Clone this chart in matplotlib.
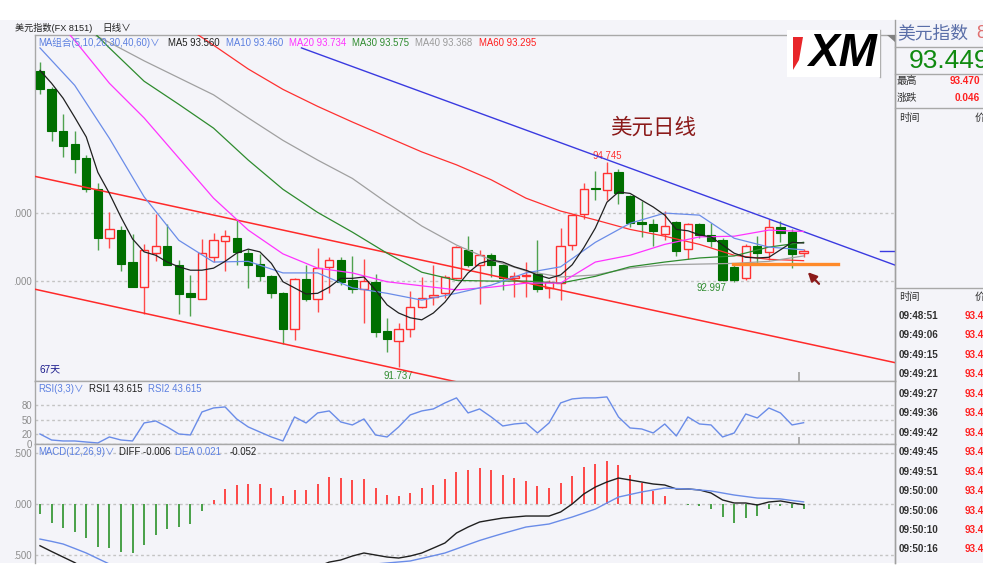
import numpy as np
import matplotlib.pyplot as plt
from matplotlib.patches import Rectangle, Polygon

plt.rcParams['font.family'] = ['Liberation Sans', 'Noto Sans CJK SC', 'DejaVu Sans']

# ---- daily candles, 67 days ----
opens = [96.09, 95.83, 95.21, 95.01, 94.81, 94.35, 93.63, 93.75, 93.28, 92.92,
         93.42, 93.52, 93.23, 92.82, 92.74, 93.36, 93.59, 93.64, 93.41, 93.25,
         93.08, 92.82, 92.29, 93.03, 92.74, 93.21, 93.31, 93.02, 92.88, 92.99,
         92.27, 92.12, 92.29, 92.62, 92.76, 92.82, 93.04, 93.45, 93.24, 93.39,
         93.24, 93.05, 93.07, 93.10, 92.90, 92.97, 93.53, 93.98, 94.37, 94.34,
         94.60, 94.25, 93.87, 93.84, 93.69, 93.87, 93.47, 93.84, 93.68, 93.60,
         93.20, 93.04, 93.51, 93.43, 93.80, 93.72, 93.42]
highs = [96.22, 95.85, 95.46, 95.21, 94.85, 94.45, 94.01, 93.81, 93.69, 93.54,
         93.99, 93.84, 93.31, 93.09, 93.62, 93.70, 93.75, 93.90, 93.47, 93.40,
         93.09, 92.84, 93.05, 93.24, 93.48, 93.35, 93.35, 93.37, 93.33, 93.10,
         92.46, 92.39, 92.86, 93.06, 93.23, 93.09, 93.51, 93.66, 93.46, 93.41,
         93.25, 93.14, 93.28, 93.61, 93.01, 93.78, 93.99, 94.45, 94.62, 94.745,
         94.65, 94.27, 94.18, 93.92, 94.03, 93.88, 93.85, 93.85, 93.85, 93.63,
         93.26, 93.54, 93.66, 93.92, 93.88, 93.76, 93.47]
lows = [95.75, 95.06, 94.83, 94.59, 94.31, 93.46, 93.48, 93.15, 92.91, 92.52,
        93.30, 93.23, 92.52, 92.48, 92.73, 93.28, 93.15, 93.24, 92.90, 93.00,
        92.75, 92.08, 92.13, 92.70, 92.54, 92.82, 92.94, 92.83, 92.39, 92.17,
        91.96, 91.737, 92.18, 92.61, 92.65, 92.75, 93.03, 93.21, 92.67, 93.06,
        92.87, 92.77, 92.77, 92.84, 92.75, 92.72, 93.46, 93.92, 94.19, 94.19,
        94.14, 93.79, 93.65, 93.51, 93.60, 93.37, 93.33, 93.64, 93.50, 92.997,
        92.99, 93.01, 93.26, 93.31, 93.58, 93.19, 93.36]
closes = [95.82, 95.21, 94.99, 94.80, 94.35, 93.64, 93.76, 93.25, 92.92, 93.45,
          93.52, 93.24, 92.81, 92.77, 93.41, 93.61, 93.66, 93.43, 93.24, 93.07,
          92.82, 92.29, 93.03, 92.74, 93.19, 93.31, 92.98, 92.88, 93.00, 92.25,
          92.15, 92.29, 92.62, 92.75, 92.80, 93.06, 93.50, 93.24, 93.38, 93.24,
          93.05, 93.08, 93.09, 92.89, 92.99, 93.52, 93.97, 94.36, 94.35, 94.59,
          94.29, 93.85, 93.84, 93.73, 93.81, 93.44, 93.84, 93.68, 93.59, 93.01,
          93.02, 93.52, 93.42, 93.79, 93.71, 93.40, 93.449]
# days whose extreme is labelled on the chart
peak_day, trough_day, retest_day = 49, 31, 59

# MA5 read per day, the slower averages every third day
ma5 = [96.10, 95.91, 95.69, 95.41, 95.12, 94.60, 94.29, 93.94, 93.62, 93.43,
       93.38, 93.28, 93.21, 93.16, 93.16, 93.19, 93.29, 93.41, 93.47, 93.43,
       93.26, 92.99, 92.90, 92.81, 92.82, 92.91, 93.04, 93.04, 93.06, 92.87,
       92.65, 92.53, 92.46, 92.43, 92.53, 92.69, 92.91, 93.12, 93.26, 93.31,
       93.28, 93.21, 93.16, 93.09, 93.04, 93.09, 93.24, 93.49, 93.78, 94.16,
       94.31, 94.29, 94.19, 94.09, 93.97, 93.76, 93.74, 93.68, 93.65, 93.53,
       93.41, 93.35, 93.34, 93.35, 93.46, 93.57, 93.56]
ma_days = list(range(0, 67, 3))
ma10 = [96.43, 95.88, 95.10, 94.24, 93.60, 93.28, 93.29, 93.12, 93.12, 92.90, 92.82, 92.72,
        92.82, 92.94, 93.12, 93.21, 93.57, 93.85, 94.00, 93.97, 93.63, 93.50, 93.46]
ma20 = [97.13, 96.54, 95.91, 95.40, 94.81, 94.22, 93.75, 93.40, 93.19, 93.12, 92.99, 92.93,
        92.87, 92.91, 92.97, 92.97, 93.28, 93.38, 93.54, 93.65, 93.66, 93.75, 93.73]
ma30 = [97.43, 96.94, 96.43, 95.94, 95.60, 95.25, 94.78, 94.35, 94.01, 93.72, 93.41, 93.13,
        93.01, 93.00, 93.00, 92.97, 93.07, 93.21, 93.28, 93.34, 93.37, 93.50, 93.57]
ma40 = [97.06, 96.76, 96.51, 96.24, 95.99, 95.74, 95.40, 95.07, 94.78, 94.51, 94.15, 93.81,
        93.53, 93.31, 93.15, 93.06, 93.09, 93.19, 93.24, 93.25, 93.26, 93.29, 93.37]
ma60 = [98.13, 97.81, 97.47, 97.15, 96.81, 96.47, 96.12, 95.82, 95.57, 95.34, 95.12, 94.90,
        94.71, 94.49, 94.22, 94.03, 93.90, 93.76, 93.66, 93.54, 93.38, 93.32, 93.30]

rsi = [20.5, 8.2, 6.2, 6.2, 4.1, 2.1, 14.4, 8.2, 6.2, 43.1,
       47.2, 34.9, 20.5, 18.5, 65.6, 73.8, 75.9, 51.3, 34.9, 24.6,
       14.4, 6.2, 55.4, 43.1, 63.6, 67.7, 45.1, 39.0, 51.3, 18.5,
       14.4, 34.9, 59.5, 67.7, 71.8, 84.1, 94.4, 63.6, 71.8, 55.4,
       36.9, 41.0, 43.1, 22.6, 43.1, 84.1, 92.3, 94.4, 94.4, 96.4,
       55.4, 32.8, 30.8, 22.6, 41.0, 16.4, 55.4, 41.0, 39.0, 14.4,
       22.6, 61.5, 53.3, 73.8, 63.6, 39.0, 43.6]

macd_hist = [-0.099, -0.185, -0.241, -0.28, -0.333, -0.429, -0.439, -0.472, -0.488, -0.406,
             -0.307, -0.248, -0.231, -0.198, -0.069, 0.04, 0.149, 0.185, 0.195, 0.195,
             0.162, 0.079, 0.139, 0.139, 0.198, 0.267, 0.257, 0.241, 0.251, 0.162,
             0.089, 0.076, 0.112, 0.158, 0.188, 0.244, 0.32, 0.337, 0.356, 0.337,
             0.287, 0.254, 0.228, 0.178, 0.155, 0.205, 0.277, 0.363, 0.396, 0.426,
             0.386, 0.287, 0.211, 0.129, 0.079, 0.005, -0.01, -0.02, -0.053, -0.132,
             -0.185, -0.142, -0.119, -0.053, -0.02, -0.037, -0.052]
diff = [-0.413, -0.47, -0.525, -0.58, -0.65, -0.755, -0.81, -0.886, -0.944, -0.953,
        -0.943, -0.944, -0.965, -0.969, -0.915, -0.86, -0.795, -0.758, -0.732, -0.712,
        -0.709, -0.74, -0.69, -0.67, -0.62, -0.575, -0.554, -0.515, -0.485, -0.505,
        -0.525, -0.535, -0.515, -0.485, -0.436, -0.386, -0.287, -0.228, -0.178, -0.158,
        -0.139, -0.129, -0.119, -0.119, -0.119, -0.079, 0.0, 0.099, 0.168, 0.218,
        0.257, 0.238, 0.218, 0.198, 0.188, 0.149, 0.149, 0.139, 0.109, 0.04,
        0.01, 0.01, -0.01, 0.02, 0.03, 0.01, -0.006]
dea = [-0.347, -0.37, -0.396, -0.44, -0.485, -0.54, -0.594, -0.65, -0.70, -0.75,
       -0.79, -0.82, -0.85, -0.87, -0.88, -0.88, -0.87, -0.85, -0.83, -0.81,
       -0.79, -0.78, -0.76, -0.74, -0.72, -0.69, -0.66, -0.63, -0.61, -0.594,
       -0.584, -0.574, -0.564, -0.538, -0.512, -0.485, -0.444, -0.402, -0.361, -0.326,
       -0.292, -0.26, -0.228, -0.213, -0.198, -0.163, -0.129, -0.09, -0.05, 0.01,
       0.069, 0.094, 0.119, 0.139, 0.158, 0.153, 0.149, 0.139, 0.129, 0.109,
       0.089, 0.074, 0.059, 0.055, 0.050, 0.035, 0.021]

# hand drawn lines (day index, price)
channel_top = ([-0.43, 73.9], [94.54, 91.80])
channel_bottom = ([-0.43, 73.9], [92.88, 90.10])
trend_blue = ([22.6, 73.9], [96.43, 93.235])
support = ([59.9, 69.0], [93.25, 93.25])

times = ['09:48:51', '09:49:06', '09:49:15', '09:49:21', '09:49:27', '09:49:36', '09:49:42',
         '09:49:45', '09:49:51', '09:50:00', '09:50:06', '09:50:10', '09:50:16']

W, H = 995, 572
BG = '#f4f4f9'
GRID = '#c4c4c4'
EDGE = '#a8a8a8'

fig = plt.figure(figsize=(W / 100, H / 100), dpi=100, facecolor='white')
fig.patches.append(Rectangle((0, 1 - 563 / H), 983 / W, 543 / H, transform=fig.transFigure,
                             facecolor=BG, edgecolor='none', zorder=-10))


def box(x0, y0, x1, y1):
    return [x0 / W, 1 - y1 / H, (x1 - x0) / W, (y1 - y0) / H]


def ftext(x, y, s, **kw):
    kw.setdefault('va', 'center')
    kw.setdefault('fontsize', 6.9)
    fig.text(x / W, 1 - y / H, s, **kw)


def fline(xs, ys, **kw):
    fig.add_artist(plt.Line2D([v / W for v in xs], [1 - v / H for v in ys], **kw))


ax = fig.add_axes(box(35, 35, 895, 381))
ax_rsi = fig.add_axes(box(35, 381, 895, 444))
ax_macd = fig.add_axes(box(35, 444, 895, 563))

for a in (ax, ax_rsi, ax_macd):
    a.set_facecolor(BG)
    a.set_xlim(-0.43, 73.9)
    a.set_xticks([])
    for s in a.spines.values():
        s.set_color(EDGE)
        s.set_linewidth(1)
    a.tick_params(axis='y', length=0, pad=2, labelsize=6.9, labelcolor='#8c8c8c')
ax_macd.spines['bottom'].set_visible(False)

x = np.arange(len(closes))
o, h, l, c = map(np.array, (opens, highs, lows, closes))
up = c >= o
lo = np.minimum(o, c)
hgt = np.maximum(np.abs(c - o), 0.008)

# price panel
ax.set_ylim(91.53, 96.62)
ax.set_yticks([93, 94], ['.000', '.000'])
ax.grid(axis='y', color=GRID, ls=(0, (2, 2)), lw=1)
ax.vlines(x[up], l[up], h[up], color='#ff4a4a', lw=1, zorder=2)
ax.vlines(x[~up], l[~up], h[~up], color='#4fa24f', lw=1, zorder=2)
ax.bar(x[up], hgt[up], 0.72, lo[up], facecolor=BG, edgecolor='#ff3030', lw=1, zorder=3)
ax.bar(x[~up], hgt[~up], 0.72, lo[~up], color='#006f00', edgecolor='#006f00', lw=0.8, zorder=3)

ax.plot(*channel_top, color='#ff2a2a', lw=1.1, zorder=4)
ax.plot(*channel_bottom, color='#ff2a2a', lw=1.1, zorder=4)
ax.plot(*trend_blue, color='#3a3ae0', lw=1, zorder=4)
ax.plot(ma_days, ma60, color='#ff3030', lw=0.9, zorder=4)
ax.plot(ma_days, ma40, color='#a0a0a0', lw=0.9, zorder=4)
ax.plot(ma_days, ma30, color='#2e8b2e', lw=0.9, zorder=4)
ax.plot(ma_days, ma20, color='#ff33ff', lw=0.9, zorder=4)
ax.plot(ma_days, ma10, color='#6a8ce8', lw=0.9, zorder=4)
ax.plot(x, ma5, color='#202020', lw=0.9, zorder=5)
ax.plot(*support, color='#ff8a2a', lw=2.4, zorder=6)
ax.plot([72.6, 73.9], [closes[-1]] * 2, color='#3a3ae0', lw=1, zorder=6)
ax.annotate('', xy=(66.2, 93.16), xytext=(67.5, 92.93),
            arrowprops=dict(arrowstyle='-|>', color='#8b1a1a', lw=1.6, mutation_scale=13), zorder=7)
ax.vlines(65.6, 91.53, 91.66, color='#a0a0a0', lw=1.2)

ax.text(peak_day, h[peak_day] + 0.1, f'{h[peak_day]:.3f}', color='#ff3030', fontsize=6.9,
        ha='center', va='center')
ax.text(trough_day, l[trough_day] - 0.135, f'{l[trough_day]:.3f}', color='#2e8b2e', fontsize=6.9,
        ha='center', va='center')
ax.text(retest_day - 1, l[retest_day] - 0.1, f'{l[retest_day]:.3f}', color='#2e8b2e', fontsize=6.9,
        ha='center', va='center')
ax.text(53.0, 95.25, '美元日线', color='#8b1a1a', fontsize=15.5, ha='center', va='center')
ax.text(0.005, 0.02, '67天', transform=ax.transAxes, color='#1a1a8c', fontsize=7.2, ha='left', va='bottom')

# RSI panel
ax_rsi.set_ylim(0, 129)
ax_rsi.set_yticks([0, 20, 50, 80], ['0', '20', '50', '80'])
ax_rsi.grid(axis='y', color=GRID, ls=(0, (2, 2)), lw=1)
ax_rsi.plot(x, rsi, color='#6a8ce8', lw=1)
ax_rsi.vlines(65.6, 0, 14, color='#a0a0a0', lw=1.2)

# MACD panel
ax_macd.set_ylim(-0.584, 0.594)
ax_macd.set_yticks([-0.5, 0, 0.5], ['.500', '.000', '.500'])
ax_macd.grid(axis='y', color=GRID, ls=(0, (2, 2)), lw=1)
hist = np.array(macd_hist)
pos = hist >= 0
ax_macd.vlines(x[pos], 0, hist[pos], color='#ff3a3a', lw=1.3)
ax_macd.vlines(x[~pos], 0, hist[~pos], color='#3a9a3a', lw=1.3)
ax_macd.plot(x, diff, color='#202020', lw=1)
ax_macd.plot(x, dea, color='#6a8ce8', lw=1)

# header texts
ftext(15, 28, '美元指数(FX 8151)', color='#202020', fontsize=6.6)
ftext(102, 28, '日线∨', color='#202020', fontsize=6.9)
ftext(38, 43, 'MA组合(5,10,20,30,40,60)∨', color='#5b7fe0')
ftext(168, 43, 'MA5 93.560', color='#202020')
ftext(226, 43, 'MA10 93.460', color='#5b7fe0')
ftext(289, 43, 'MA20 93.734', color='#ff33ff')
ftext(352, 43, 'MA30 93.575', color='#2e8b2e')
ftext(415, 43, 'MA40 93.368', color='#9a9a9a')
ftext(479, 43, 'MA60 93.295', color='#ff2020')
ftext(38, 389, 'RSI(3,3)∨', color='#5b7fe0')
ftext(89, 389, 'RSI1 43.615', color='#202020')
ftext(148, 389, 'RSI2 43.615', color='#5b7fe0')
ftext(38, 452, 'MACD(12,26,9)∨', color='#5b7fe0')
ftext(119, 452, 'DIFF -0.006', color='#202020')
ftext(175, 452, 'DEA 0.021', color='#5b7fe0')
ftext(230, 452, '-0.052', color='#202020')

# XM logo
fig.patches.append(Rectangle((787 / W, 1 - 77 / H), 93 / W, 47 / H, transform=fig.transFigure,
                             facecolor='white', edgecolor='none', zorder=3))
fig.patches.append(Polygon([(793 / W, 1 - 37 / H), (803 / W, 1 - 37 / H), (799 / W, 1 - 60 / H),
                            (793 / W, 1 - 70 / H)], closed=True, transform=fig.transFigure,
                           facecolor='#e8262a', edgecolor='none', zorder=4))
ftext(843, 54, 'XM', color='black', fontsize=33, fontweight='bold', fontstyle='italic',
      ha='center', zorder=5)
fline([880, 880], [30, 77], color='#b0b0b0', lw=1)
fig.patches.append(Polygon([(887 / W, 1 - 35 / H), (895 / W, 1 - 35 / H), (895 / W, 1 - 42 / H)],
                           closed=True, transform=fig.transFigure, facecolor='#808080',
                           edgecolor='none', zorder=4))

# right quote panel
fline([895, 895], [20, 563], color='#a0a0a0', lw=1)
for yy in (47, 74, 108, 288):
    fline([895, 983], [yy, yy], color='#a8a8a8', lw=1)
ftext(897, 34, '美元指数', color='#5a6ea8', fontsize=12.8)
ftext(976, 34, '8', color='#e07070', fontsize=12.8)
ftext(909, 61, '93.449', color='#108a10', fontsize=19)
ftext(897, 81, '最高', color='#303030', fontsize=7.4)
ftext(980, 81, '93.470', color='#ff2020', fontsize=7.2, fontweight='bold', ha='right')
ftext(897, 98, '涨跌', color='#303030', fontsize=7.4)
ftext(980, 98, '0.046', color='#ff2020', fontsize=7.2, fontweight='bold', ha='right')
ftext(899, 118, '时间', color='#303030', fontsize=7.4)
ftext(975, 118, '价', color='#303030', fontsize=7.4)
ftext(899, 297, '时间', color='#303030', fontsize=7.4)
ftext(975, 297, '价', color='#303030', fontsize=7.4)
for k, t in enumerate(times):
    ftext(899, 316 + 19.45 * k, t, color='#303030', fontsize=7.1, fontweight='bold')
    ftext(965, 316 + 19.45 * k, '93.4', color='#ff2020', fontsize=7.1, fontweight='bold')
# the panel is cut off at the screenshot's right edge
fig.patches.append(Rectangle((983 / W, 0), 12 / W, 1, transform=fig.transFigure,
                             facecolor='white', edgecolor='none', zorder=20))

fig.savefig('out.png', dpi=100, facecolor='white')
